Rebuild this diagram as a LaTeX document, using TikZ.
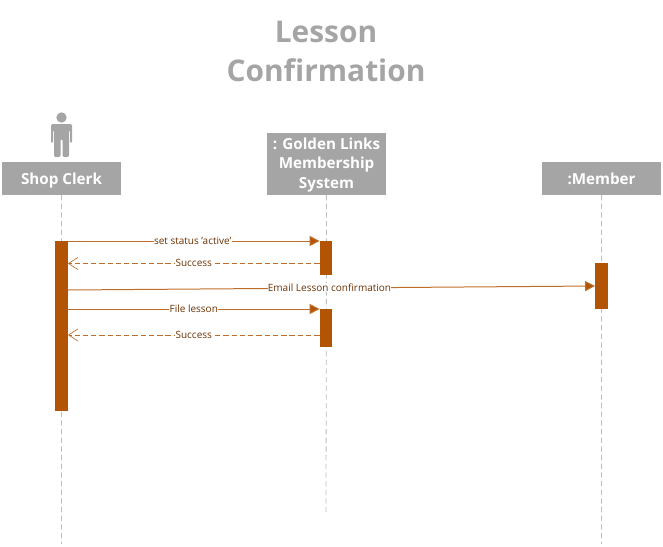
\documentclass[tikz,border=0pt]{standalone}
\usepackage{fontspec}
\setmainfont{Open Sans}
\usetikzlibrary{arrows.meta}
\definecolor{boxgray}{HTML}{A5A5A5}
\definecolor{rust}{HTML}{B35404}
\definecolor{msgtext}{HTML}{6E3306}
\definecolor{lineg}{HTML}{BDBDBD}
\tikzset{
  headbox/.style={fill=boxgray,draw=none,text=white,font=\fontsize{11.4}{14.8}\selectfont\bfseries,align=center,inner sep=0pt,outer sep=0pt,anchor=north west},
  bar/.style={fill=rust,draw=none,inner sep=0pt,outer sep=0pt,minimum width=9.6pt,anchor=north},
  life/.style={draw=lineg,line width=0.6pt,dash pattern=on 4pt off 2.5pt},
  msg/.style={draw=rust!85!white,line width=0.75pt,-{Triangle[length=7.5pt,width=7.5pt,fill=rust]}},
  ret/.style={draw=rust!85!white,line width=0.5pt,dash pattern=on 4pt off 2.2pt,-{Straight Barb[length=7pt,width=9pt,line width=0.5pt]}},
  lab/.style={fill=white,text=msgtext,font=\fontsize{7.5}{9}\selectfont,inner sep=0.2pt,yshift=0.3pt},
}
\begin{document}
\begin{tikzpicture}[x=0.75pt,y=-0.75pt]
\useasboundingbox (0,0) rectangle (663,546);
\node[text=boxgray,font=\fontsize{22.4}{29.4}\selectfont\bfseries,align=center] (title) at (326,51.5) {Lesson\\Confirmation};
% actor
\fill[boxgray] (61.5,117.5) circle (5.2);
\fill[boxgray,rounded corners=1pt] (51,124) -- (72,124) -- (72,143) -- (70,143) -- (70,130) -- (69,130) -- (69,157) -- (62.5,157) -- (62.5,139) -- (60.5,139) -- (60.5,157) -- (54,157) -- (54,130) -- (53,130) -- (53,143) -- (51,143) -- cycle;
% heads
\node[headbox,minimum width=89.3pt,minimum height=24.7pt] (clerk) at (2,162) {\raisebox{-1pt}[7pt][0pt]{Shop Clerk}};
\node[headbox,minimum width=89.3pt,minimum height=46.5pt] (golden) at (267,133) {\rule{0pt}{10pt}: Golden Links\\Membership\\System};
\node[headbox,minimum width=89.3pt,minimum height=24.7pt] (member) at (542,162) {:Member};
% lifeline ends
\coordinate (clerkend) at (61.5,544);
\coordinate (goldenend) at (326,512);
\coordinate (memberend) at (601.5,544);
\draw[life] (clerk.south) -- (clerkend);
\draw[life] (golden.south) -- (goldenend);
\draw[life] (member.south) -- (memberend);
% bars
\node[bar,minimum height=127.5pt] (b1) at (61.5,241) {};
\node[bar,minimum height=25.5pt] (b2) at (326,241) {};
\node[bar,minimum height=29.2pt] (b3) at (326,308.5) {};
\node[bar,minimum height=34.5pt] (b4) at (601.5,263) {};
% messages
\coordinate (m1a) at (b1.east |- 0,241);
\coordinate (m1b) at (b2.west |- 0,241);
\draw[msg] (m1a) -- node[lab,xshift=-0.8pt]{set status 'active'} (m1b);
\coordinate (m2a) at (b2.west |- 0,263.5);
\coordinate (m2b) at (b1.east |- 0,263.5);
\draw[ret] (m2a) -- node[lab]{Success} (m2b);
\coordinate (m3a) at (b1.east |- 0,290);
\coordinate (m3b) at (b4.west |- 0,286);
\draw[msg] (m3a) -- node[lab,xshift=-1.5pt]{Email Lesson confirmation} (m3b);
\coordinate (m4a) at (b1.east |- 0,309);
\coordinate (m4b) at (b3.west |- 0,309);
\draw[msg] (m4a) -- node[lab]{File lesson} (m4b);
\coordinate (m5a) at (b3.west |- 0,335);
\coordinate (m5b) at (b1.east |- 0,335);
\draw[ret] (m5a) -- node[lab]{Success} (m5b);
\end{tikzpicture}
\end{document}
